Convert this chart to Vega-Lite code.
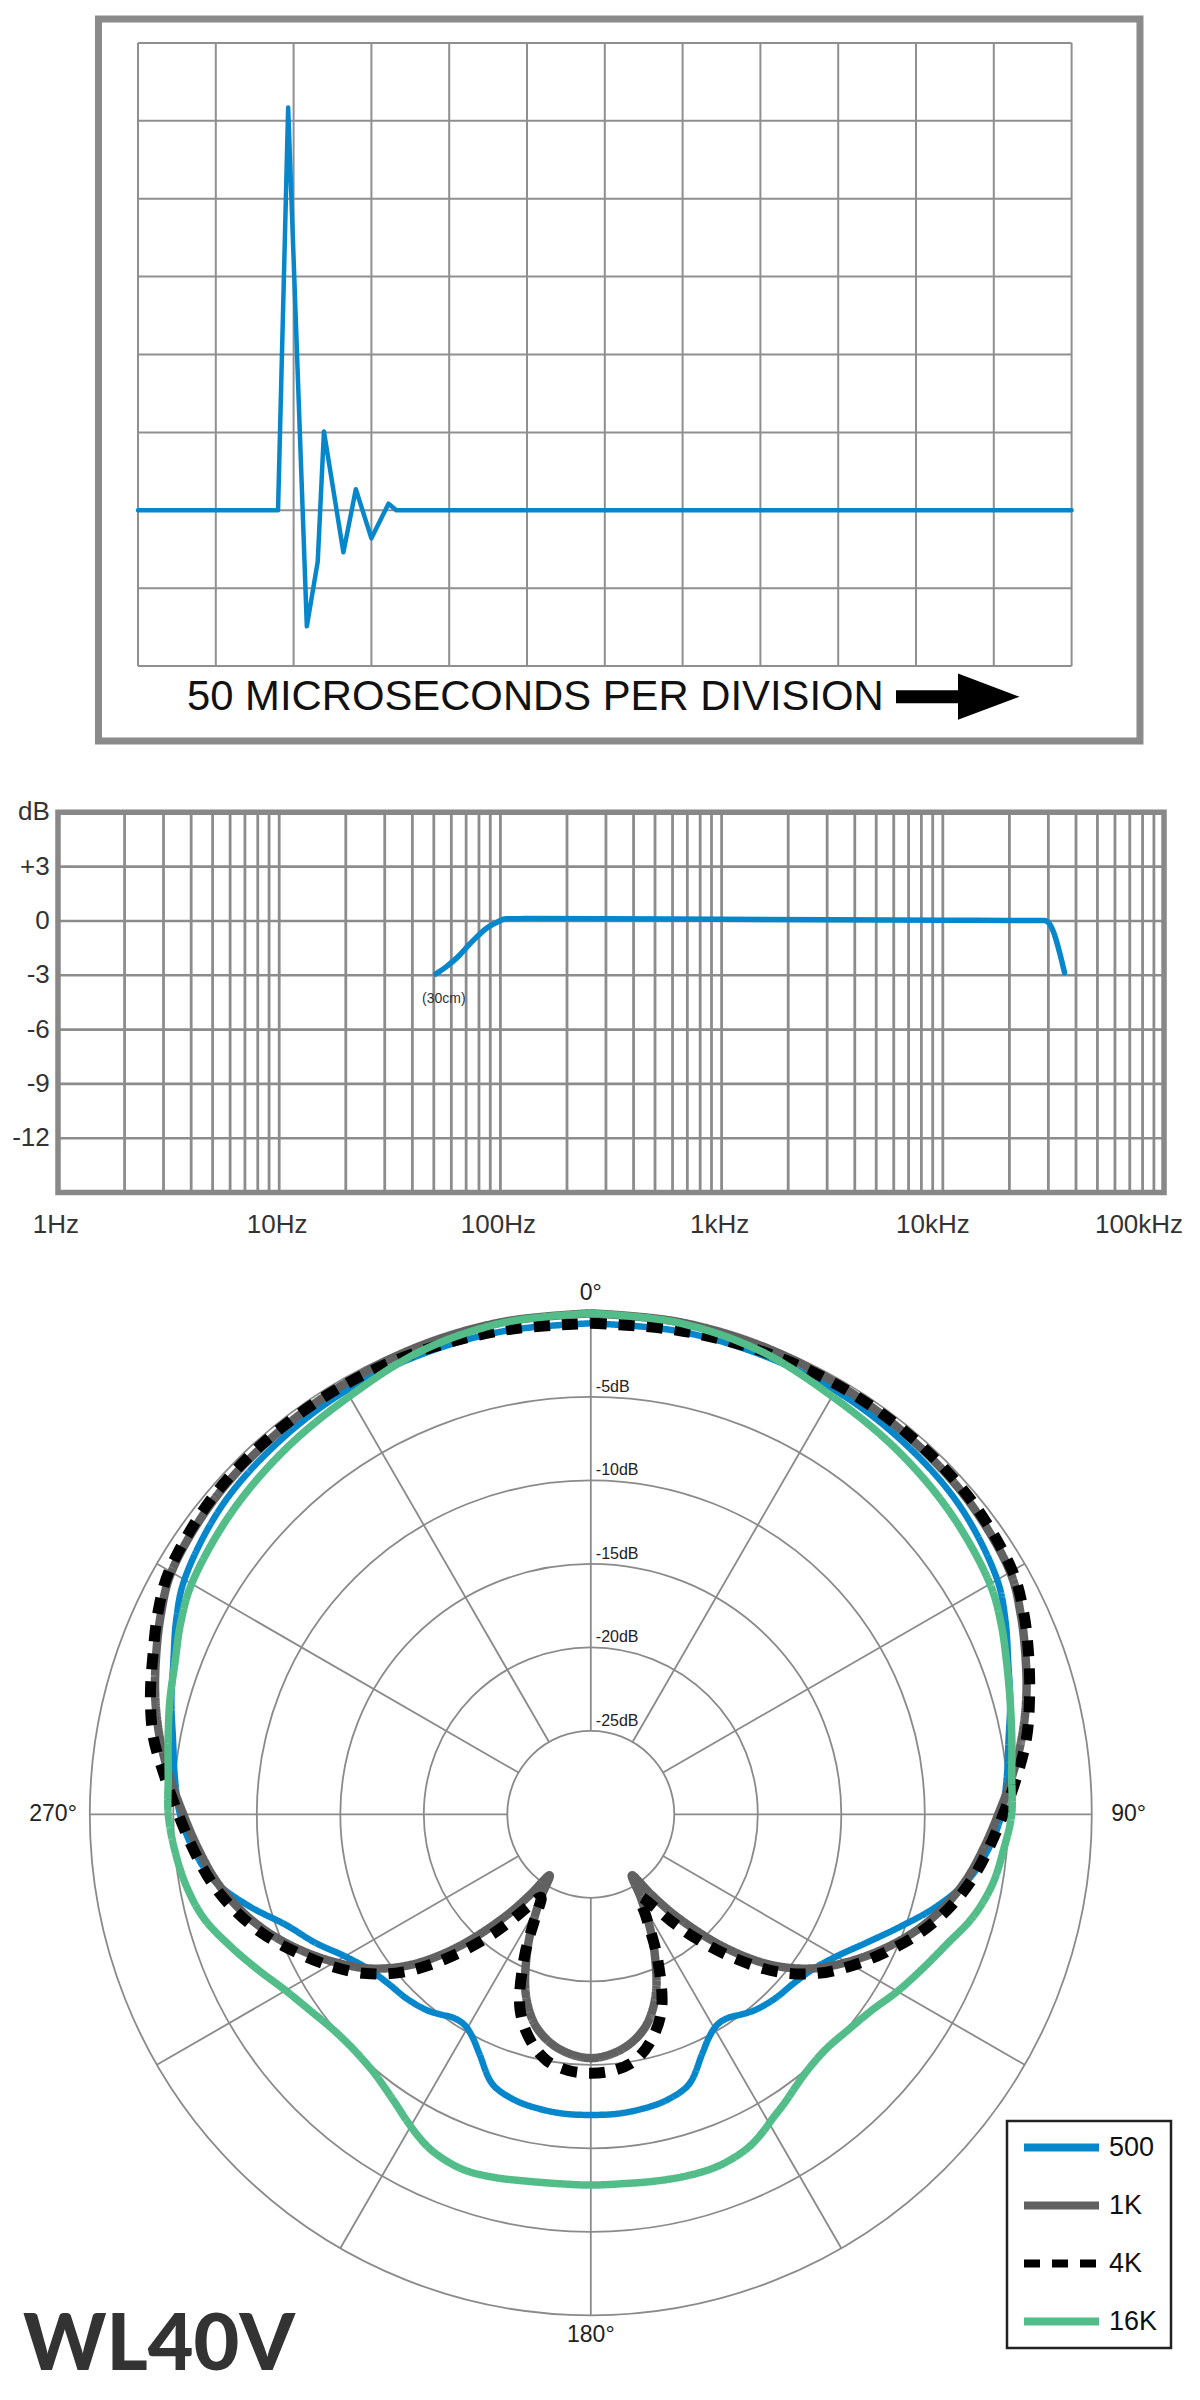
{
"$schema":"https://vega.github.io/schema/vega-lite/v6.json",
"width":1200,"height":2400,"padding":0,"autosize":{"type":"none"},"background":"white",
"config":{"view":{"stroke":null},"axis":{"disable":true},"legend":{"strokeWidth":2.5}},
"datasets":{
"polar":[
{"a":0,"500":-0.6,"1K":0,"4K":-0.6,"16K":0},
{"a":10,"500":-0.6,"1K":-0.05,"4K":-0.55,"16K":-0.1},
{"a":20,"500":-0.65,"1K":-0.15,"4K":-0.45,"16K":-0.45},
{"a":30,"500":-0.7,"1K":-0.3,"4K":-0.35,"16K":-1.1},
{"a":40,"500":-0.9,"1K":-0.45,"4K":-0.35,"16K":-1.5},
{"a":50,"500":-1.2,"1K":-0.6,"4K":-0.45,"16K":-1.9},
{"a":60,"500":-1.9,"1K":-1.0,"4K":-0.85,"16K":-2.4},
{"a":65,"500":-2.6,"1K":-1.6,"4K":-1.4,"16K":-2.9},
{"a":70,"500":-3.4,"1K":-2.3,"4K":-2.1,"16K":-3.5},
{"a":75,"500":-4.0,"1K":-3.0,"4K":-2.8,"16K":-4.0},
{"a":80,"500":-4.6,"1K":-3.8,"4K":-3.5,"16K":-4.4},
{"a":85,"500":-5.0,"1K":-4.7,"4K":-4.4,"16K":-4.7},
{"a":90,"500":-5.4,"1K":-5.6,"4K":-5.3,"16K":-4.8},
{"a":95,"500":-6.1,"1K":-6.4,"4K":-6.1,"16K":-5.2},
{"a":100,"500":-7.1,"1K":-7.2,"4K":-6.9,"16K":-5.6},
{"a":105,"500":-8.6,"1K":-8.2,"4K":-7.9,"16K":-6.3},
{"a":110,"500":-10.3,"1K":-9.4,"4K":-9.1,"16K":-7.3},
{"a":115,"500":-11.8,"1K":-10.8,"4K":-10.5,"16K":-8.1},
{"a":120,"500":-13.0,"1K":-12.3,"4K":-11.9,"16K":-8.8},
{"a":125,"500":-13.8,"1K":-13.9,"4K":-13.4,"16K":-9.5},
{"a":130,"500":-14.2,"1K":-16.0,"4K":-15.3,"16K":-9.9},
{"a":135,"500":-14.4,"1K":-18.8,"4K":-17.8,"16K":-10.1},
{"a":140,"500":-14.7,"1K":-22.0,"4K":-20.4,"16K":-9.9},
{"a":143,"500":-15.0,"1K":-24.0,"4K":-22.0,"16K":-9.6},
{"a":146,"500":-15.3,"1K":-25.6,"4K":-23.4,"16K":-9.2},
{"a":149,"500":-15.3,"1K":-24.2,"4K":-24.2,"16K":-8.8},
{"a":152,"500":-14.9,"1K":-22.6,"4K":-22.8,"16K":-8.3},
{"a":155,"500":-14.2,"1K":-21.0,"4K":-20.6,"16K":-7.9},
{"a":160,"500":-12.8,"1K":-18.6,"4K":-17.6,"16K":-7.6},
{"a":165,"500":-12.3,"1K":-17.0,"4K":-16.0,"16K":-7.6},
{"a":170,"500":-12.1,"1K":-16.1,"4K":-15.0,"16K":-7.7},
{"a":175,"500":-12.0,"1K":-15.6,"4K":-14.6,"16K":-7.8},
{"a":180,"500":-12.0,"1K":-15.4,"4K":-14.5,"16K":-7.8},
{"a":185,"500":-12.0,"1K":-15.6,"4K":-14.6,"16K":-7.8},
{"a":190,"500":-12.1,"1K":-16.1,"4K":-15.0,"16K":-7.7},
{"a":195,"500":-12.3,"1K":-17.0,"4K":-16.0,"16K":-7.5},
{"a":200,"500":-12.8,"1K":-18.6,"4K":-17.6,"16K":-7.4},
{"a":205,"500":-14.2,"1K":-21.0,"4K":-20.6,"16K":-7.7},
{"a":208,"500":-14.9,"1K":-22.6,"4K":-22.8,"16K":-8.1},
{"a":211,"500":-15.3,"1K":-24.2,"4K":-24.2,"16K":-8.6},
{"a":214,"500":-15.3,"1K":-25.6,"4K":-23.4,"16K":-9.1},
{"a":217,"500":-15.0,"1K":-24.0,"4K":-22.0,"16K":-9.5},
{"a":220,"500":-14.7,"1K":-22.0,"4K":-20.4,"16K":-9.8},
{"a":225,"500":-14.4,"1K":-18.8,"4K":-17.8,"16K":-10.0},
{"a":230,"500":-14.2,"1K":-16.0,"4K":-15.3,"16K":-9.9},
{"a":235,"500":-13.8,"1K":-13.9,"4K":-13.4,"16K":-9.5},
{"a":240,"500":-13.0,"1K":-12.3,"4K":-11.9,"16K":-8.9},
{"a":245,"500":-11.8,"1K":-10.8,"4K":-10.5,"16K":-8.0},
{"a":250,"500":-10.6,"1K":-9.4,"4K":-9.1,"16K":-7.0},
{"a":255,"500":-8.8,"1K":-8.2,"4K":-7.9,"16K":-6.0},
{"a":260,"500":-7.1,"1K":-7.2,"4K":-6.9,"16K":-5.4},
{"a":265,"500":-6.1,"1K":-6.4,"4K":-6.1,"16K":-5.0},
{"a":270,"500":-5.4,"1K":-5.6,"4K":-5.3,"16K":-4.7},
{"a":275,"500":-5.0,"1K":-4.7,"4K":-4.4,"16K":-4.6},
{"a":280,"500":-4.6,"1K":-3.8,"4K":-3.4,"16K":-4.3},
{"a":285,"500":-4.0,"1K":-3.0,"4K":-2.7,"16K":-3.9},
{"a":290,"500":-3.4,"1K":-2.3,"4K":-2.1,"16K":-3.5},
{"a":295,"500":-2.6,"1K":-1.6,"4K":-1.4,"16K":-2.9},
{"a":300,"500":-1.9,"1K":-1.0,"4K":-0.85,"16K":-2.4},
{"a":310,"500":-1.2,"1K":-0.6,"4K":-0.45,"16K":-1.9},
{"a":320,"500":-0.9,"1K":-0.45,"4K":-0.35,"16K":-1.5},
{"a":330,"500":-0.7,"1K":-0.3,"4K":-0.35,"16K":-1.1},
{"a":340,"500":-0.65,"1K":-0.15,"4K":-0.45,"16K":-0.45},
{"a":350,"500":-0.6,"1K":-0.05,"4K":-0.55,"16K":-0.1},
{"a":360,"500":-0.6,"1K":0,"4K":-0.6,"16K":0}
]},
"resolve":{"scale":{"x":"independent","y":"independent"}},
"layer":[
{"layer":[
 {"data":{"values":[{"v":0},{"v":1},{"v":2},{"v":3},{"v":4},{"v":5},{"v":6},{"v":7},{"v":8},{"v":9},{"v":10},{"v":11},{"v":12}]},
  "mark":{"type":"rule","color":"#8f8f8f","strokeWidth":2},
  "encoding":{"x":{"field":"v","type":"quantitative","scale":{"domain":[-1.7738,13.6504],"nice":false,"zero":false}},
   "y":{"datum":-2,"scale":{"domain":[-24.26,6.551],"nice":false,"zero":false}},"y2":{"datum":6}}},
 {"data":{"values":[{"v":-2},{"v":-1},{"v":0},{"v":1},{"v":2},{"v":3},{"v":4},{"v":5},{"v":6}]},
  "mark":{"type":"rule","color":"#8f8f8f","strokeWidth":2},
  "encoding":{"y":{"field":"v","type":"quantitative","scale":{"domain":[-24.26,6.551],"nice":false,"zero":false}},
   "x":{"datum":0,"scale":{"domain":[-1.7738,13.6504],"nice":false,"zero":false}},"x2":{"datum":12}}},
 {"data":{"values":[{}]},
  "mark":{"type":"rect","filled":false,"stroke":"#8a8a8a","strokeWidth":7},
  "encoding":{"x":{"datum":-0.508,"scale":{"domain":[-1.7738,13.6504],"nice":false,"zero":false}},"x2":{"datum":12.879},
   "y":{"datum":6.307,"scale":{"domain":[-24.26,6.551],"nice":false,"zero":false}},"y2":{"datum":-2.961}}},
 {"data":{"values":[{"t":0,"amp":0},{"t":1.8,"amp":0},{"t":1.93,"amp":5.17},{"t":2.17,"amp":-1.49},{"t":2.31,"amp":-0.66},{"t":2.39,"amp":1.01},{"t":2.64,"amp":-0.54},{"t":2.8,"amp":0.27},{"t":3.0,"amp":-0.36},{"t":3.22,"amp":0.085},{"t":3.32,"amp":0},{"t":12,"amp":0}]},
  "mark":{"type":"line","color":"#0787CB","strokeWidth":4.5,"strokeJoin":"round","strokeCap":"round"},
  "encoding":{"x":{"field":"t","type":"quantitative","scale":{"domain":[-1.7738,13.6504],"nice":false,"zero":false}},
   "y":{"field":"amp","type":"quantitative","scale":{"domain":[-24.26,6.551],"nice":false,"zero":false}}}},
 {"data":{"values":[{"label":"50 MICROSECONDS PER DIVISION"}]},
  "mark":{"type":"text","align":"left","baseline":"middle","font":"Liberation Sans","fontSize":41.8,"color":"#111"},
  "encoding":{"text":{"field":"label"},"x":{"datum":0.63,"scale":{"domain":[-1.7738,13.6504],"nice":false,"zero":false}},
   "y":{"datum":-2.4,"scale":{"domain":[-24.26,6.551],"nice":false,"zero":false}}}},
 {"data":{"values":[{}]},
  "mark":{"type":"rule","color":"#000","strokeWidth":13},
  "encoding":{"x":{"datum":9.743,"scale":{"domain":[-1.7738,13.6504],"nice":false,"zero":false}},"x2":{"datum":10.62},
   "y":{"datum":-2.393,"scale":{"domain":[-24.26,6.551],"nice":false,"zero":false}}}},
 {"data":{"values":[{}]},
  "mark":{"type":"point","shape":"M-1,-0.75L1,0L-1,0.75Z","filled":true,"color":"#000","opacity":1,"size":3782},
  "encoding":{"x":{"datum":10.935,"scale":{"domain":[-1.7738,13.6504],"nice":false,"zero":false}},
   "y":{"datum":-2.393,"scale":{"domain":[-24.26,6.551],"nice":false,"zero":false}}}}
]},
{"layer":[
 {"data":{"values":[{"f":2},{"f":3},{"f":4},{"f":5},{"f":6},{"f":7},{"f":8},{"f":9},{"f":10},{"f":20},{"f":30},{"f":40},{"f":50},{"f":60},{"f":70},{"f":80},{"f":90},{"f":100},{"f":200},{"f":300},{"f":400},{"f":500},{"f":600},{"f":700},{"f":800},{"f":900},{"f":1000},{"f":2000},{"f":3000},{"f":4000},{"f":5000},{"f":6000},{"f":7000},{"f":8000},{"f":9000},{"f":10000},{"f":20000},{"f":30000},{"f":40000},{"f":50000},{"f":60000},{"f":70000},{"f":80000},{"f":90000}]},
  "mark":{"type":"rule","color":"#8c8c8c","strokeWidth":2.8},
  "encoding":{"x":{"field":"f","type":"quantitative","scale":{"type":"log","domain":[0.5468,145420],"nice":false}},
   "y":{"datum":-15,"scale":{"domain":[-81.71,50.88],"nice":false,"zero":false}},"y2":{"datum":6}}},
 {"data":{"values":[{"d":-12},{"d":-9},{"d":-6},{"d":-3},{"d":0},{"d":3}]},
  "mark":{"type":"rule","color":"#8c8c8c","strokeWidth":2.6},
  "encoding":{"y":{"field":"d","type":"quantitative","scale":{"domain":[-81.71,50.88],"nice":false,"zero":false}},
   "x":{"datum":1,"scale":{"type":"log","domain":[0.5468,145420],"nice":false}},"x2":{"datum":100000}}},
 {"data":{"values":[{}]},
  "mark":{"type":"rect","filled":false,"stroke":"#888888","strokeWidth":5.5},
  "encoding":{"x":{"datum":1,"scale":{"type":"log","domain":[0.5468,145420],"nice":false}},"x2":{"datum":100000},
   "y":{"datum":-15,"scale":{"domain":[-81.71,50.88],"nice":false,"zero":false}},"y2":{"datum":6}}},
 {"data":{"values":[{"f":51,"d":-2.93},{"f":57,"d":-2.52},{"f":65.5,"d":-1.88},{"f":71,"d":-1.4},{"f":77,"d":-0.96},{"f":86.6,"d":-0.4},{"f":97.6,"d":-0.04},{"f":106,"d":0.12},{"f":130,"d":0.13},{"f":300,"d":0.12},{"f":1000,"d":0.09},{"f":3000,"d":0.07},{"f":10000,"d":0.04},{"f":20000,"d":0.03},{"f":28800,"d":0.02},{"f":30600,"d":-0.22},{"f":31800,"d":-0.68},{"f":33800,"d":-1.79},{"f":35500,"d":-2.86}]},
  "mark":{"type":"line","color":"#0787CB","strokeWidth":5.5,"strokeCap":"round","strokeJoin":"round","interpolate":"monotone"},
  "encoding":{"x":{"field":"f","type":"quantitative","scale":{"type":"log","domain":[0.5468,145420],"nice":false}},
   "y":{"field":"d","type":"quantitative","scale":{"domain":[-81.71,50.88],"nice":false,"zero":false}}}},
 {"data":{"values":[{"f":1,"t":"1Hz"},{"f":10,"t":"10Hz"},{"f":100,"t":"100Hz"},{"f":1000,"t":"1kHz"}]},
  "mark":{"type":"text","align":"center","baseline":"middle","font":"Liberation Sans","fontSize":26,"color":"#333","dx":-2},
  "encoding":{"text":{"field":"t"},"x":{"field":"f","type":"quantitative","scale":{"type":"log","domain":[0.5468,145420],"nice":false}},
   "y":{"datum":-16.8,"scale":{"domain":[-81.71,50.88],"nice":false,"zero":false}}}},
 {"data":{"values":[{"f":10000,"t":"10kHz"}]},
  "mark":{"type":"text","align":"center","baseline":"middle","font":"Liberation Sans","fontSize":26,"color":"#333","dx":-10},
  "encoding":{"text":{"field":"t"},"x":{"field":"f","type":"quantitative","scale":{"type":"log","domain":[0.5468,145420],"nice":false}},
   "y":{"datum":-16.8,"scale":{"domain":[-81.71,50.88],"nice":false,"zero":false}}}},
 {"data":{"values":[{"f":100000,"t":"100kHz"}]},
  "mark":{"type":"text","align":"center","baseline":"middle","font":"Liberation Sans","fontSize":26,"color":"#333","dx":-25},
  "encoding":{"text":{"field":"t"},"x":{"field":"f","type":"quantitative","scale":{"type":"log","domain":[0.5468,145420],"nice":false}},
   "y":{"datum":-16.8,"scale":{"domain":[-81.71,50.88],"nice":false,"zero":false}}}},
 {"data":{"values":[{"d":6,"t":"dB"},{"d":3,"t":"+3"},{"d":0,"t":"0"},{"d":-3,"t":"-3"},{"d":-6,"t":"-6"},{"d":-9,"t":"-9"},{"d":-12,"t":"-12"}]},
  "mark":{"type":"text","align":"right","baseline":"middle","font":"Liberation Sans","fontSize":26,"color":"#333"},
  "encoding":{"text":{"field":"t"},"x":{"datum":0.918,"scale":{"type":"log","domain":[0.5468,145420],"nice":false}},
   "y":{"field":"d","type":"quantitative","scale":{"domain":[-81.71,50.88],"nice":false,"zero":false}}}},
 {"data":{"values":[{"t":"(30cm)"}]},
  "mark":{"type":"text","align":"center","baseline":"middle","font":"Liberation Sans","fontSize":14,"color":"#333"},
  "encoding":{"text":{"field":"t"},"x":{"datum":55.5,"scale":{"type":"log","domain":[0.5468,145420],"nice":false}},
   "y":{"datum":-4.3,"scale":{"domain":[-81.71,50.88],"nice":false,"zero":false}}}}
]},
{"layer":[
 {"data":{"values":[{"lvl":-25},{"lvl":-20},{"lvl":-15},{"lvl":-10},{"lvl":-5},{"lvl":0}]},
  "transform":[{"calculate":"datum.lvl + 30","as":"r"}],
  "mark":{"type":"arc","theta":0,"theta2":6.2832,"filled":false,"stroke":"#8a8a8a","strokeWidth":1.8},
  "encoding":{"x":{"datum":0,"scale":{"domain":[-35.377,36.479],"nice":false,"zero":false}},
   "y":{"datum":0,"scale":{"domain":[-35.07,108.64],"nice":false,"zero":false}},
   "radius":{"field":"r","type":"quantitative","stack":null,"scale":{"type":"linear","domain":[0,30],"range":[0,501]}}}},
 {"data":{"values":[{"a":0},{"a":30},{"a":60},{"a":90},{"a":120},{"a":150},{"a":180},{"a":210},{"a":240},{"a":270},{"a":300},{"a":330}]},
  "transform":[{"calculate":"5*sin(datum.a*PI/180)","as":"x1"},{"calculate":"5*cos(datum.a*PI/180)","as":"y1"},
   {"calculate":"30*sin(datum.a*PI/180)","as":"x2"},{"calculate":"30*cos(datum.a*PI/180)","as":"y2"}],
  "mark":{"type":"rule","color":"#8a8a8a","strokeWidth":1.8},
  "encoding":{"x":{"field":"x1","type":"quantitative","scale":{"domain":[-35.377,36.479],"nice":false,"zero":false}},"x2":{"field":"x2"},
   "y":{"field":"y1","type":"quantitative","scale":{"domain":[-35.07,108.64],"nice":false,"zero":false}},"y2":{"field":"y2"}}},
 {"data":{"name":"polar"},
  "transform":[{"fold":["500","1K","4K","16K"],"as":["freq","db"]},{"filter":"datum.freq == '500'"},
   {"calculate":"(datum.db+30)*sin(datum.a*PI/180)","as":"px"},{"calculate":"(datum.db+30)*cos(datum.a*PI/180)","as":"py"}],
  "mark":{"type":"line","strokeWidth":6.5,"interpolate":"catmull-rom","strokeJoin":"round"},
  "encoding":{"x":{"field":"px","type":"quantitative","scale":{"domain":[-35.377,36.479],"nice":false,"zero":false}},
   "y":{"field":"py","type":"quantitative","scale":{"domain":[-35.07,108.64],"nice":false,"zero":false}},
   "order":{"field":"a","type":"quantitative"},
   "color":{"field":"freq","type":"nominal","scale":{"domain":["500","1K","4K","16K"],"range":["#0787CB","#616161","#000000","#52BD88"]},
     "legend":{"title":null,"orient":"none","legendX":1007,"legendY":2121,"strokeColor":"#222","padding":13,"symbolType":"stroke","symbolSize":5625,"symbolStrokeWidth":8,"labelFontSize":27,"labelFont":"Liberation Sans","labelColor":"#111","labelOffset":6,"rowPadding":30,"clipHeight":27}},
   "strokeDash":{"field":"freq","type":"nominal","scale":{"domain":["500","1K","4K","16K"],"range":[[1,0],[1,0],[16,12],[1,0]]},
     "legend":{"title":null,"orient":"none","legendX":1007,"legendY":2121,"strokeColor":"#222","padding":13,"symbolType":"stroke","symbolSize":5625,"symbolStrokeWidth":8,"labelFontSize":27,"labelFont":"Liberation Sans","labelColor":"#111","labelOffset":6,"rowPadding":30,"clipHeight":27}}}},
 {"data":{"name":"polar"},
  "transform":[{"fold":["500","1K","4K","16K"],"as":["freq","db"]},{"filter":"datum.freq == '1K'"},
   {"calculate":"(datum.db+30)*sin(datum.a*PI/180)","as":"px"},{"calculate":"(datum.db+30)*cos(datum.a*PI/180)","as":"py"}],
  "mark":{"type":"line","strokeWidth":8.5,"interpolate":"catmull-rom","strokeJoin":"round"},
  "encoding":{"x":{"field":"px","type":"quantitative","scale":{"domain":[-35.377,36.479],"nice":false,"zero":false}},
   "y":{"field":"py","type":"quantitative","scale":{"domain":[-35.07,108.64],"nice":false,"zero":false}},
   "order":{"field":"a","type":"quantitative"},
   "color":{"field":"freq","type":"nominal","scale":{"domain":["500","1K","4K","16K"],"range":["#0787CB","#616161","#000000","#52BD88"]},
     "legend":{"title":null,"orient":"none","legendX":1007,"legendY":2121,"strokeColor":"#222","padding":13,"symbolType":"stroke","symbolSize":5625,"symbolStrokeWidth":8,"labelFontSize":27,"labelFont":"Liberation Sans","labelColor":"#111","labelOffset":6,"rowPadding":30,"clipHeight":27}},
   "strokeDash":{"field":"freq","type":"nominal","scale":{"domain":["500","1K","4K","16K"],"range":[[1,0],[1,0],[16,12],[1,0]]},
     "legend":{"title":null,"orient":"none","legendX":1007,"legendY":2121,"strokeColor":"#222","padding":13,"symbolType":"stroke","symbolSize":5625,"symbolStrokeWidth":8,"labelFontSize":27,"labelFont":"Liberation Sans","labelColor":"#111","labelOffset":6,"rowPadding":30,"clipHeight":27}}}},
 {"data":{"name":"polar"},
  "transform":[{"fold":["500","1K","4K","16K"],"as":["freq","db"]},{"filter":"datum.freq == '4K'"},
   {"calculate":"(datum.db+30)*sin(datum.a*PI/180)","as":"px"},{"calculate":"(datum.db+30)*cos(datum.a*PI/180)","as":"py"}],
  "mark":{"type":"line","strokeWidth":11,"interpolate":"catmull-rom","strokeCap":"butt"},
  "encoding":{"x":{"field":"px","type":"quantitative","scale":{"domain":[-35.377,36.479],"nice":false,"zero":false}},
   "y":{"field":"py","type":"quantitative","scale":{"domain":[-35.07,108.64],"nice":false,"zero":false}},
   "order":{"field":"a","type":"quantitative"},
   "color":{"field":"freq","type":"nominal","scale":{"domain":["500","1K","4K","16K"],"range":["#0787CB","#616161","#000000","#52BD88"]},
     "legend":{"title":null,"orient":"none","legendX":1007,"legendY":2121,"strokeColor":"#222","padding":13,"symbolType":"stroke","symbolSize":5625,"symbolStrokeWidth":8,"labelFontSize":27,"labelFont":"Liberation Sans","labelColor":"#111","labelOffset":6,"rowPadding":30,"clipHeight":27}},
   "strokeDash":{"field":"freq","type":"nominal","scale":{"domain":["500","1K","4K","16K"],"range":[[1,0],[1,0],[16,12],[1,0]]},
     "legend":{"title":null,"orient":"none","legendX":1007,"legendY":2121,"strokeColor":"#222","padding":13,"symbolType":"stroke","symbolSize":5625,"symbolStrokeWidth":8,"labelFontSize":27,"labelFont":"Liberation Sans","labelColor":"#111","labelOffset":6,"rowPadding":30,"clipHeight":27}}}},
 {"data":{"name":"polar"},
  "transform":[{"fold":["500","1K","4K","16K"],"as":["freq","db"]},{"filter":"datum.freq == '16K'"},
   {"calculate":"(datum.db+30)*sin(datum.a*PI/180)","as":"px"},{"calculate":"(datum.db+30)*cos(datum.a*PI/180)","as":"py"}],
  "mark":{"type":"line","strokeWidth":7.5,"interpolate":"catmull-rom","strokeJoin":"round"},
  "encoding":{"x":{"field":"px","type":"quantitative","scale":{"domain":[-35.377,36.479],"nice":false,"zero":false}},
   "y":{"field":"py","type":"quantitative","scale":{"domain":[-35.07,108.64],"nice":false,"zero":false}},
   "order":{"field":"a","type":"quantitative"},
   "color":{"field":"freq","type":"nominal","scale":{"domain":["500","1K","4K","16K"],"range":["#0787CB","#616161","#000000","#52BD88"]},
     "legend":{"title":null,"orient":"none","legendX":1007,"legendY":2121,"strokeColor":"#222","padding":13,"symbolType":"stroke","symbolSize":5625,"symbolStrokeWidth":8,"labelFontSize":27,"labelFont":"Liberation Sans","labelColor":"#111","labelOffset":6,"rowPadding":30,"clipHeight":27}},
   "strokeDash":{"field":"freq","type":"nominal","scale":{"domain":["500","1K","4K","16K"],"range":[[1,0],[1,0],[16,12],[1,0]]},
     "legend":{"title":null,"orient":"none","legendX":1007,"legendY":2121,"strokeColor":"#222","padding":13,"symbolType":"stroke","symbolSize":5625,"symbolStrokeWidth":8,"labelFontSize":27,"labelFont":"Liberation Sans","labelColor":"#111","labelOffset":6,"rowPadding":30,"clipHeight":27}}}},
 {"data":{"values":[{"a":0,"t":"0°"},{"a":90,"t":"90°"},{"a":180,"t":"180°"},{"a":270,"t":"270°"}]},
  "transform":[{"calculate":"(31.2+abs(sin(datum.a*PI/180)))*sin(datum.a*PI/180)","as":"lx"},{"calculate":"31.2*cos(datum.a*PI/180)","as":"ly"}],
  "mark":{"type":"text","align":"center","baseline":"middle","font":"Liberation Sans","fontSize":23,"color":"#222"},
  "encoding":{"text":{"field":"t"},"x":{"field":"lx","type":"quantitative","scale":{"domain":[-35.377,36.479],"nice":false,"zero":false}},
   "y":{"field":"ly","type":"quantitative","scale":{"domain":[-35.07,108.64],"nice":false,"zero":false}}}},
 {"data":{"values":[{"lvl":-5,"t":"-5dB"},{"lvl":-10,"t":"-10dB"},{"lvl":-15,"t":"-15dB"},{"lvl":-20,"t":"-20dB"},{"lvl":-25,"t":"-25dB"}]},
  "transform":[{"calculate":"datum.lvl+30","as":"r"}],
  "mark":{"type":"text","align":"left","baseline":"bottom","font":"Liberation Sans","fontSize":16,"color":"#222","dx":5,"dy":-2},
  "encoding":{"text":{"field":"t"},"x":{"datum":0,"scale":{"domain":[-35.377,36.479],"nice":false,"zero":false}},
   "y":{"field":"r","type":"quantitative","scale":{"domain":[-35.07,108.64],"nice":false,"zero":false}}}},
 {"data":{"values":[{"t":"WL40V"}]},
  "mark":{"type":"text","align":"left","baseline":"alphabetic","font":"Lato","fontWeight":900,"fontSize":79,"color":"#333"},
  "encoding":{"text":{"field":"t"},"x":{"datum":-34.0,"scale":{"domain":[-35.377,36.479],"nice":false,"zero":false}},
   "y":{"datum":-33.3,"scale":{"domain":[-35.07,108.64],"nice":false,"zero":false}}}}
]}
]
}
